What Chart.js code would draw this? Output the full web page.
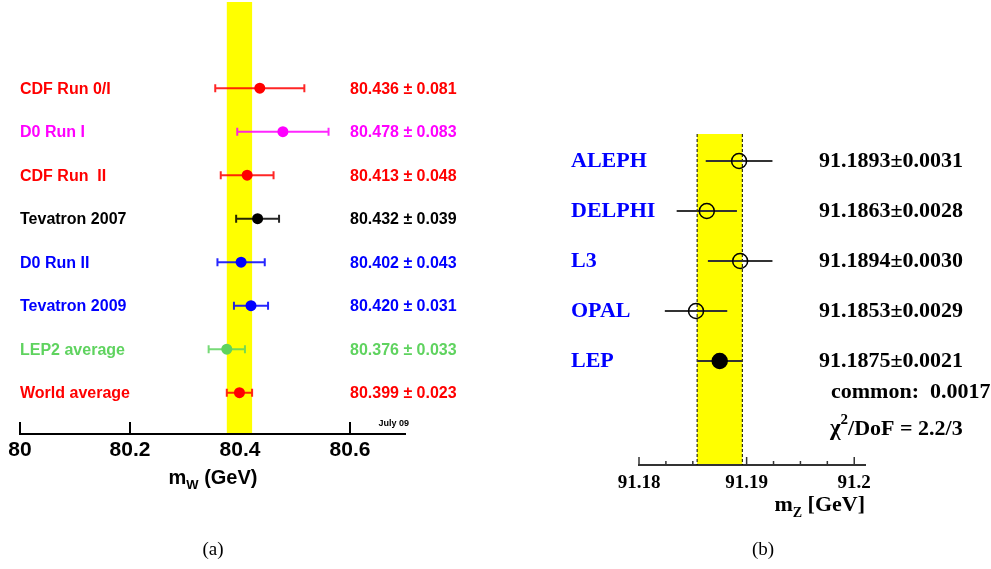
<!DOCTYPE html>
<html lang="en">
<head>
<meta charset="UTF-8">
<title>W and Z mass measurements</title>
<script src="https://cdn.jsdelivr.net/npm/chart.js"></script>
<style>
    body {
        margin: 0;
        background: #fff;
        width: 991px;
        height: 569px;
        position: relative;
        overflow: hidden;
    }
    canvas {
        position: absolute;
        top: 0;
    }
    #wChart { left: 0; }
    #zChart { left: 490px; }
    .caption {
        position: absolute;
        top: 538px;
        font-family: 'Liberation Serif', serif;
        font-size: 19px;
        transform: translateX(-50%);
    }
</style>
</head>
<body>
<canvas id="wChart" width="490" height="569"></canvas>
<canvas id="zChart" width="501" height="569"></canvas>
<div class="caption" style="left:213px">(a)</div>
<div class="caption" style="left:763px">(b)</div>

<script>
// (a) W mass measurements
const wLabels = ['CDF Run 0/I', 'D0 Run I', 'CDF Run  II', 'Tevatron 2007', 'D0 Run II', 'Tevatron 2009', 'LEP2 average', 'World average'];
const wMass = [80.436, 80.478, 80.413, 80.432, 80.402, 80.420, 80.376, 80.399];
const wErr = [0.081, 0.083, 0.048, 0.039, 0.043, 0.031, 0.033, 0.023];
const wColors = ['#ff0000', '#ff00ff', '#ff0000', '#000000', '#0000ff', '#0000ff', '#5fd35f', '#ff0000'];
const wTicks = [80, 80.2, 80.4, 80.6];
const wAverage = 80.399;
const wAverageErr = 0.023;

// (b) Z mass measurements
const zLabels = ['ALEPH', 'DELPHI', 'L3', 'OPAL', 'LEP'];
const zMass = [91.1893, 91.1863, 91.1894, 91.1853, 91.1875];
const zErr = [0.0031, 0.0028, 0.0030, 0.0029, 0.0021];
const zTicks = [91.18, 91.1825, 91.185, 91.1875, 91.19, 91.1925, 91.195, 91.1975, 91.2];
const zMajorTicks = [91.18, 91.19, 91.2];
const zCommon = 0.0017;
const zChi2 = '2.2/3';

const sans = "'Liberation Sans', Arial, sans-serif";
const serif = "'Liberation Serif', 'Times New Roman', serif";

// draws "m" + subscript + rest, starting at x
function drawSubText(ctx, x, y, main, sub, rest, size, subSize, family, drop) {
    ctx.font = 'bold ' + size + 'px ' + family;
    ctx.fillText(main, x, y);
    x += ctx.measureText(main).width;
    ctx.font = 'bold ' + subSize + 'px ' + family;
    ctx.fillText(sub, x, y + drop);
    x += ctx.measureText(sub).width;
    ctx.font = 'bold ' + size + 'px ' + family;
    ctx.fillText(rest, x, y);
}

function subTextWidth(ctx, main, sub, rest, size, subSize, family) {
    ctx.font = 'bold ' + size + 'px ' + family;
    let w = ctx.measureText(main).width + ctx.measureText(rest).width;
    ctx.font = 'bold ' + subSize + 'px ' + family;
    return w + ctx.measureText(sub).width;
}

const wPlugin = {
    id: 'wDecor',
    beforeDatasetsDraw(chart) {
        const { ctx, chartArea, scales: { x, y } } = chart;
        ctx.save();
        // ticks pointing up
        ctx.strokeStyle = '#000';
        ctx.lineWidth = 2;
        wTicks.forEach(v => {
            const px = x.getPixelForValue(v);
            ctx.beginPath();
            ctx.moveTo(px, chartArea.bottom);
            ctx.lineTo(px, chartArea.bottom - 12);
            ctx.stroke();
        });
        // world average band
        const b0 = x.getPixelForValue(wAverage - wAverageErr);
        const b1 = x.getPixelForValue(wAverage + wAverageErr);
        ctx.fillStyle = '#ffff00';
        ctx.fillRect(b0, chartArea.top, b1 - b0, chartArea.bottom - chartArea.top - 1);
        // error bars with caps
        wMass.forEach((m, i) => {
            const py = y.getPixelForValue(i);
            const lo = x.getPixelForValue(m - wErr[i]);
            const hi = x.getPixelForValue(m + wErr[i]);
            ctx.strokeStyle = wColors[i];
            ctx.globalAlpha = 0.85;
            ctx.lineWidth = 2;
            ctx.beginPath();
            ctx.moveTo(lo, py); ctx.lineTo(hi, py);
            ctx.moveTo(lo, py - 4); ctx.lineTo(lo, py + 4);
            ctx.moveTo(hi, py - 4); ctx.lineTo(hi, py + 4);
            ctx.stroke();
        });
        ctx.restore();
    },
    afterDraw(chart) {
        const { ctx, chartArea, scales: { y } } = chart;
        ctx.save();
        ctx.textBaseline = 'middle';
        ctx.textAlign = 'left';
        wLabels.forEach((lab, i) => {
            const py = y.getPixelForValue(i);
            ctx.fillStyle = wColors[i];
            ctx.font = 'bold 16px ' + sans;
            ctx.fillText(lab, 20, py + 1);
            ctx.fillText(wMass[i].toFixed(3) + ' \u00b1 ' + wErr[i].toFixed(3), 350, py + 1);
        });
        ctx.fillStyle = '#000';
        ctx.textAlign = 'right';
        ctx.font = 'bold 9px ' + sans;
        ctx.fillText('July 09', 409, 424);
        // axis title
        ctx.textAlign = 'left';
        ctx.textBaseline = 'alphabetic';
        const w = subTextWidth(ctx, 'm', 'W', ' (GeV)', 20, 13, sans);
        drawSubText(ctx, 213 - w / 2, 484, 'm', 'W', ' (GeV)', 20, 13, sans, 5);
        ctx.restore();
    }
};

const zPlugin = {
    id: 'zDecor',
    beforeDatasetsDraw(chart) {
        const { ctx, chartArea, scales: { x, y } } = chart;
        ctx.save();
        ctx.strokeStyle = '#333';
        ctx.lineWidth = 1.5;
        zTicks.forEach(v => {
            const px = x.getPixelForValue(v);
            const len = zMajorTicks.includes(v) ? 8 : 4;
            ctx.beginPath();
            ctx.moveTo(px, chartArea.bottom);
            ctx.lineTo(px, chartArea.bottom - len);
            ctx.stroke();
        });
        // LEP average band
        const avg = zMass[zMass.length - 1];
        const err = zErr[zErr.length - 1];
        const b0 = x.getPixelForValue(avg - err);
        const b1 = x.getPixelForValue(avg + err);
        ctx.fillStyle = '#ffff00';
        ctx.fillRect(b0, chartArea.top, b1 - b0, chartArea.bottom - chartArea.top - 1);
        ctx.strokeStyle = '#000';
        ctx.lineWidth = 1;
        ctx.setLineDash([3, 2]);
        [b0, b1].forEach(px => {
            ctx.beginPath();
            ctx.moveTo(px, chartArea.top);
            ctx.lineTo(px, chartArea.bottom);
            ctx.stroke();
        });
        ctx.setLineDash([]);
        // error bars
        ctx.strokeStyle = '#333';
        ctx.lineWidth = 2;
        zMass.forEach((m, i) => {
            const py = y.getPixelForValue(i);
            ctx.beginPath();
            ctx.moveTo(x.getPixelForValue(m - zErr[i]), py);
            ctx.lineTo(x.getPixelForValue(m + zErr[i]), py);
            ctx.stroke();
        });
        ctx.restore();
    },
    afterDraw(chart) {
        const { ctx, chartArea, scales: { y } } = chart;
        ctx.save();
        ctx.textBaseline = 'middle';
        ctx.textAlign = 'left';
        ctx.font = 'bold 22px ' + serif;
        zLabels.forEach((lab, i) => {
            const py = y.getPixelForValue(i);
            ctx.fillStyle = '#0000ff';
            ctx.fillText(lab, 81, py);
            ctx.fillStyle = '#000';
            ctx.fillText(zMass[i].toFixed(4) + '\u00b1' + zErr[i].toFixed(4), 329, py);
        });
        ctx.fillStyle = '#000';
        ctx.font = 'bold 22px ' + serif;
        ctx.fillText('common:  ' + zCommon.toFixed(4), 341, 392);
        // chi2 / DoF
        ctx.textBaseline = 'alphabetic';
        ctx.font = 'bold 23px ' + serif;
        let cx = 340;
        ctx.fillText('\u03c7', cx, 435);
        cx += ctx.measureText('\u03c7').width;
        ctx.font = 'bold 15px ' + serif;
        ctx.fillText('2', cx, 424);
        cx += ctx.measureText('2').width;
        ctx.font = 'bold 22px ' + serif;
        ctx.fillText('/DoF = ' + zChi2, cx, 435);
        // axis title, right aligned at axis end
        const w = subTextWidth(ctx, 'm', 'Z', ' [GeV]', 22, 14, serif);
        drawSubText(ctx, chartArea.right - w, 511, 'm', 'Z', ' [GeV]', 22, 14, serif, 6);
        ctx.restore();
    }
};

new Chart(document.getElementById('wChart'), {
    type: 'scatter',
    data: {
        datasets: [{
            data: wMass.map((m, i) => ({ x: m, y: i })),
            pointRadius: 5.5,
            pointHoverRadius: 5.5,
            pointBackgroundColor: wColors,
            pointBorderWidth: 0
        }]
    },
    options: {
        responsive: false,
        animation: false,
        events: [],
        layout: { autoPadding: false, padding: { left: 20, right: 85, top: 2, bottom: 0 } },
        plugins: { legend: { display: false }, tooltip: { enabled: false } },
        scales: {
            x: {
                type: 'linear',
                min: 80,
                max: 80.7,
                afterBuildTicks: s => { s.ticks = wTicks.map(v => ({ value: v })); },
                afterFit: s => { s.height = 135; },
                grid: { display: false },
                border: { display: true, color: '#000', width: 2 },
                ticks: {
                    padding: -4,
                    color: '#000',
                    maxRotation: 0,
                    autoSkip: false,
                    font: { family: sans, size: 21, weight: 'bold' },
                    callback: v => String(v)
                }
            },
            y: { display: false, reverse: true, min: -1.98, max: 7.95 }
        }
    },
    plugins: [wPlugin]
});

new Chart(document.getElementById('zChart'), {
    type: 'scatter',
    data: {
        datasets: [{
            data: zMass.map((m, i) => ({ x: m, y: i })),
            pointRadius: 7.5,
            pointHoverRadius: 7.5,
            pointBackgroundColor: zLabels.map((l, i) => i === zLabels.length - 1 ? '#000' : 'rgba(0,0,0,0)'),
            pointBorderColor: '#000',
            pointBorderWidth: 1.5
        }]
    },
    options: {
        responsive: false,
        animation: false,
        events: [],
        layout: { autoPadding: false, padding: { left: 149, right: 126, top: 134, bottom: 0 } },
        plugins: { legend: { display: false }, tooltip: { enabled: false } },
        scales: {
            x: {
                type: 'linear',
                min: 91.18,
                max: 91.201,
                afterBuildTicks: s => { s.ticks = zTicks.map(v => ({ value: v })); },
                afterFit: s => { s.height = 104; },
                grid: { display: false },
                border: { display: true, color: '#333', width: 2 },
                ticks: {
                    padding: -1,
                    color: '#000',
                    maxRotation: 0,
                    autoSkip: false,
                    font: { family: serif, size: 19, weight: 'bold' },
                    callback: v => zMajorTicks.includes(v) ? String(v) : ''
                }
            },
            y: { display: false, reverse: true, min: -0.54, max: 6.08 }
        }
    },
    plugins: [zPlugin]
});
</script>
</body>
</html>
